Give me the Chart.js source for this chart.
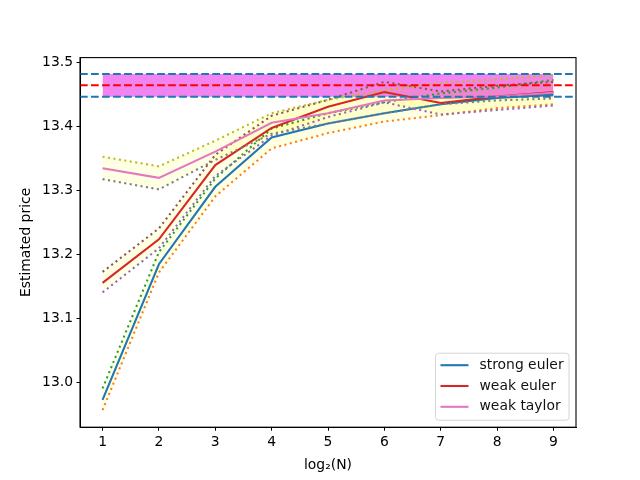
<!DOCTYPE html>
<html>
<head>
<meta charset="utf-8">
<script src="https://cdn.jsdelivr.net/npm/chart.js@4/dist/chart.umd.min.js"></script>
<style>
  html, body { margin: 0; padding: 0; background: #fff; }
  #wrap { width: 640px; height: 480px; }
</style>
</head>
<body>
<div id="wrap"><canvas id="priceChart" width="640" height="480"></canvas></div>
<script>
// --- data ---
const logN = [1, 2, 3, 4, 5, 6, 7, 8, 9];

const strongEuler     = [12.972, 13.184, 13.305, 13.382, 13.404, 13.420, 13.434, 13.444, 13.449];
const strongEulerLow  = [12.956, 13.171, 13.290, 13.365, 13.389, 13.407, 13.417, 13.428, 13.434];
const strongEulerHigh = [12.990, 13.203, 13.318, 13.396, 13.420, 13.437, 13.451, 13.460, 13.472];

const weakEuler     = [13.155, 13.223, 13.339, 13.397, 13.430, 13.453, 13.436, 13.446, 13.453];
const weakEulerLow  = [13.140, 13.209, 13.322, 13.385, 13.414, 13.437, 13.418, 13.425, 13.432];
const weakEulerHigh = [13.172, 13.240, 13.355, 13.416, 13.441, 13.469, 13.454, 13.463, 13.469];

const weakTaylor     = [13.334, 13.319, 13.360, 13.405, 13.420, 13.440, 13.444, 13.446, 13.452];
const weakTaylorLow  = [13.317, 13.301, 13.347, 13.388, 13.404, 13.420, 13.434, 13.440, 13.443];
const weakTaylorHigh = [13.352, 13.337, 13.377, 13.420, 13.441, 13.456, 13.467, 13.473, 13.480];

// reference price and its band
const refPrice = 13.4636;
const refLow = 13.4458;
const refHigh = 13.4813;

const xTicks = [1, 2, 3, 4, 5, 6, 7, 8, 9];
const yTicks = [13.0, 13.1, 13.2, 13.3, 13.4, 13.5];
const xMin = 0.6, xMax = 9.4;
const yMin = 12.9294, yMax = 13.5069;

const legendItems = [
  { label: 'strong euler', color: '#1f77b4' },
  { label: 'weak euler', color: '#d62728' },
  { label: 'weak taylor', color: '#e377c2' }
];

// --- helpers ---
const FONT = "'DejaVu Sans', sans-serif";
const LW = 2.08;
const DOT = [LW, LW * 1.65];
const DASH = [LW * 3.7, LW * 1.6];
const band = 'rgba(255, 255, 0, 0.11)';

const pts = ys => logN.map((x, i) => ({ x: x, y: ys[i] }));
const flat = (xs, v) => xs.map(x => ({ x: x, y: v }));

function line(data, color, extra) {
  return Object.assign({
    data: data,
    borderColor: color,
    borderWidth: LW,
    pointRadius: 0,
    tension: 0,
    fill: false,
    borderCapStyle: 'butt'
  }, extra || {});
}

// all fills are drawn before any line; among fills, higher order goes first
const datasets = [
  // strong euler
  line(pts(strongEuler), '#1f77b4', { order: 10 }),
  line(pts(strongEulerLow), '#ff7f0e', { order: 10, borderDash: DOT }),
  line(pts(strongEulerHigh), '#2ca02c', { order: 10, borderDash: DOT, fill: '-1', backgroundColor: band }),

  // weak euler
  line(pts(weakEuler), '#d62728', { order: 9 }),
  line(pts(weakEulerLow), '#9467bd', { order: 9, borderDash: DOT }),
  line(pts(weakEulerHigh), '#8c564b', { order: 9, borderDash: DOT, fill: '-1', backgroundColor: band }),

  // weak taylor
  line(pts(weakTaylor), '#e377c2', { order: 8 }),
  line(pts(weakTaylorLow), '#7f7f7f', { order: 8, borderDash: DOT }),
  line(pts(weakTaylorHigh), '#bcbd22', { order: 8, borderDash: DOT, fill: '-1', backgroundColor: band }),

  // magenta band (invisible borders), filled after the yellow bands
  line(flat(logN, refLow), 'rgba(0,0,0,0)', { order: 5 }),
  line(flat(logN, refHigh), 'rgba(0,0,0,0)', { order: 5, fill: '-1', backgroundColor: 'rgba(228, 10, 228, 0.5)' }),

  // horizontal reference lines across the whole axis
  line(flat([xMin, xMax], refHigh), '#1f77b4', { order: 1, borderDash: DASH }),
  line(flat([xMin, xMax], refPrice), '#ff0000', { order: 1, borderDash: DASH }),
  line(flat([xMin, xMax], refLow), '#1f77b4', { order: 1, borderDash: DASH })
];

// frame around plot + legend in lower right
const framePlugin = {
  id: 'frame',
  afterDraw(chart) {
    const { ctx, chartArea: a } = chart;
    ctx.save();
    ctx.strokeStyle = '#000';
    ctx.lineWidth = 1.1;
    ctx.strokeRect(a.left, a.top, a.right - a.left, a.bottom - a.top);

    // legend box
    const w = 133.5, h = 67, x0 = a.right - 7 - w, y0 = a.bottom - 7 - h;
    ctx.beginPath();
    ctx.roundRect(x0, y0, w, h, 3);
    ctx.fillStyle = 'rgba(255,255,255,0.8)';
    ctx.fill();
    ctx.strokeStyle = '#d6d6d6';
    ctx.lineWidth = 1;
    ctx.stroke();

    ctx.font = '13.9px ' + FONT;
    ctx.textBaseline = 'middle';
    ctx.fillStyle = '#111';
    legendItems.forEach((it, i) => {
      const y = y0 + 12 + i * 20.8;
      ctx.beginPath();
      ctx.moveTo(x0 + 5, y);
      ctx.lineTo(x0 + 33, y);
      ctx.strokeStyle = it.color;
      ctx.lineWidth = LW;
      ctx.stroke();
      ctx.fillText(it.label, x0 + 44, y);
    });
    ctx.restore();
  }
};

new Chart(document.getElementById('priceChart'), {
  type: 'line',
  data: { datasets: datasets },
  options: {
    responsive: false,
    animation: false,
    events: [],
    layout: { padding: { top: 57.6, right: 64, left: 0, bottom: 0 } },
    plugins: {
      legend: { display: false },
      tooltip: { enabled: false },
      filler: { drawTime: 'beforeDatasetsDraw' }
    },
    scales: {
      x: {
        type: 'linear',
        min: xMin,
        max: xMax,
        afterBuildTicks: s => { s.ticks = xTicks.map(v => ({ value: v })); },
        afterFit: s => { s.height = 52.8; },
        grid: { drawOnChartArea: false, tickLength: 3.5, tickColor: '#000', tickWidth: 1 },
        border: { color: '#000', width: 1 },
        ticks: { color: '#000', padding: 3, maxRotation: 0, font: { family: FONT, size: 13.9 } },
        title: { display: true, text: 'log\u2082(N)', color: '#000', padding: { top: 2, bottom: 6 }, font: { family: FONT, size: 13.9 } }
      },
      y: {
        type: 'linear',
        min: yMin,
        max: yMax,
        afterBuildTicks: s => { s.ticks = yTicks.map(v => ({ value: v })); },
        afterFit: s => { s.width = 80; },
        grid: { drawOnChartArea: false, tickLength: 3.5, tickColor: '#000', tickWidth: 1 },
        border: { color: '#000', width: 1 },
        ticks: { color: '#000', padding: 3.5, font: { family: FONT, size: 13.9 }, callback: v => v.toFixed(1) },
        title: { display: true, text: 'Estimated price', color: '#000', padding: { top: 18, bottom: 0 }, font: { family: FONT, size: 13.9 } }
      }
    }
  },
  plugins: [framePlugin]
});
</script>
</body>
</html>
